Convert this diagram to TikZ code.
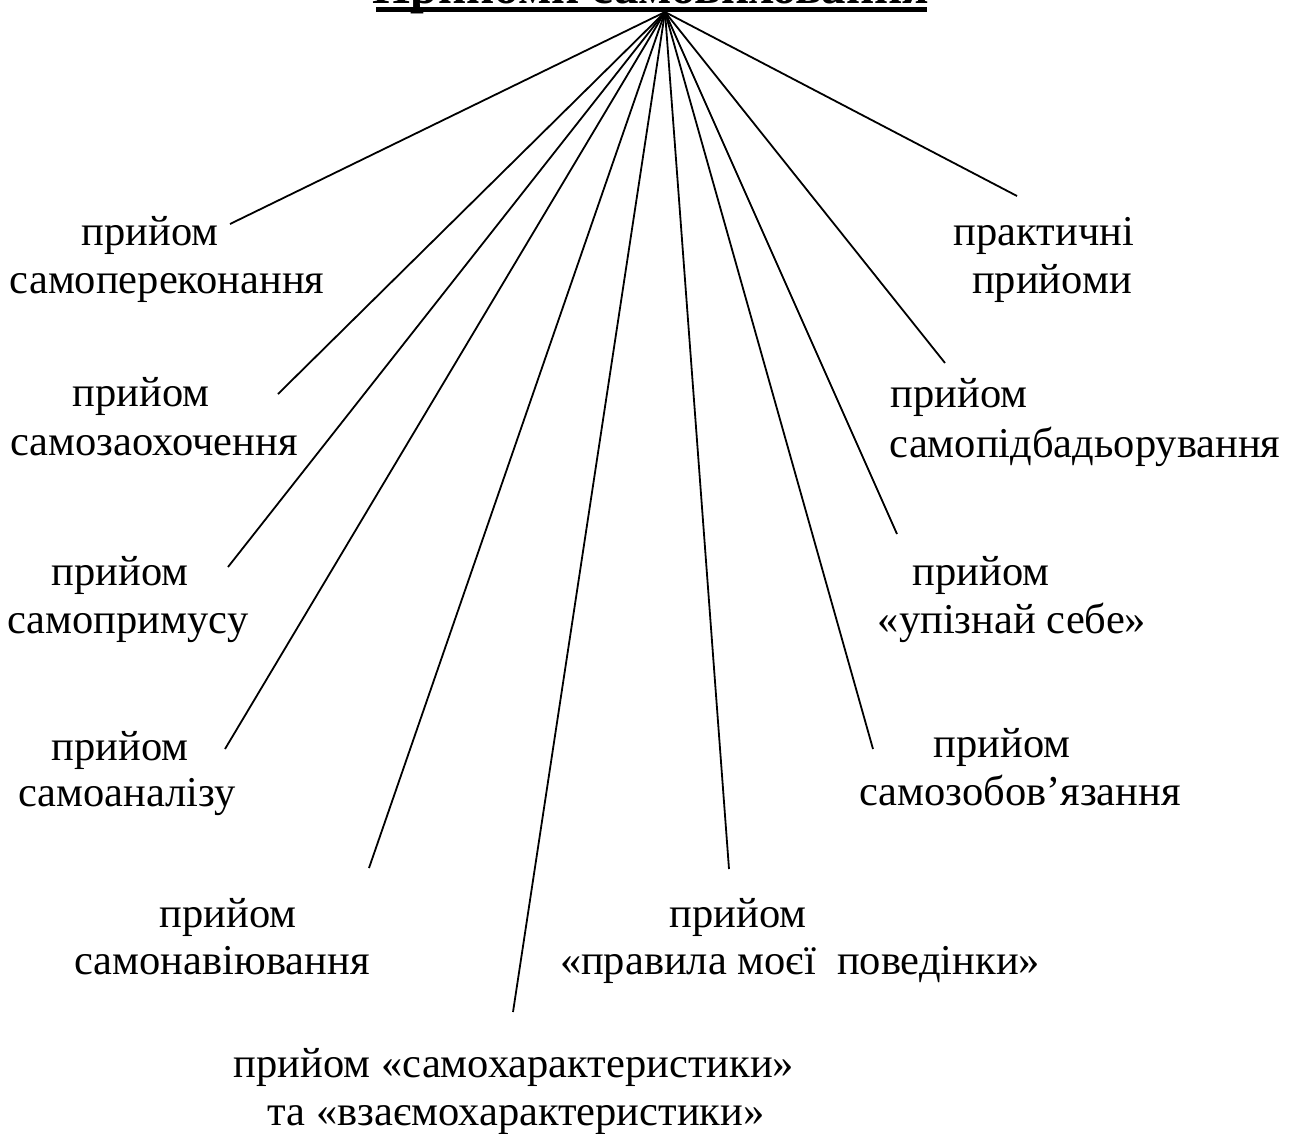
\documentclass[tikz,border=0pt]{standalone}
\usepackage{fontspec}
\setmainfont{Liberation Serif}
\usepackage{tikz}

\begin{document}
\begin{tikzpicture}
		[x=1pt, y=-1pt,
		 item/.style={font=\fontsize{42.5}{48}\selectfont, inner sep=0pt, anchor=base},
		 heading/.style={font=\fontsize{49}{56}\selectfont\bfseries, inner sep=0pt, anchor=base},
		 link/.style={line width=1.8pt}]
		\useasboundingbox (0,0) rectangle (1295,1133);
		\clip (0,0) rectangle (1295,1133);

		\node[heading] (title) at (651,3) {Прийоми самовиховання};
		\draw[line width=5pt] (376,9.5) -- (927,9.5);
		\coordinate (hub) at (665,12);

		% left column
		\node[item] (pa1) at (150,245) {прийом};
		\node[item] (pa2) at (167,293) {самопереконання};
		\node[item] (pb1) at (141,406) {прийом};
		\node[item] (pb2) at (154,455) {самозаохочення};
		\node[item] (pc1) at (120,585) {прийом};
		\node[item] (pc2) at (128,633) {самопримусу};
		\node[item] (pd1) at (120,760) {прийом};
		\node[item] (pd2) at (127,806) {самоаналізу};
		\node[item] (pe1) at (228,927) {прийом};
		\node[item] (pe2) at (222,974) {самонавіювання};

		% bottom
		\node[item] (pf1) at (514,1077) {прийом «самохарактеристики»};
		\node[item] (pf2) at (516,1125) {та «взаємохарактеристики»};

		% right column
		\node[item] (qa1) at (1044,245) {практичні};
		\node[item] (qa2) at (1052,293) {прийоми};
		\node[item] (qb1) at (959,407) {прийом};
		\node[item] (qb2) at (1085,457) {самопідбадьорування};
		\node[item] (qc1) at (981,585) {прийом};
		\node[item] (qc2) at (1012,633) {«упізнай себе»};
		\node[item] (qd1) at (1002,757) {прийом};
		\node[item] (qd2) at (1020,805) {самозобов’язання};
		\node[item] (qe1) at (738,927) {прийом};
		\node[item] (qe2) at (800,974) {«правила моєї~~поведінки»};

		% line ends
		\coordinate (ea) at (230,224);
		\coordinate (eb) at (278,394);
		\coordinate (ec) at (228,567);
		\coordinate (ed) at (225,749);
		\coordinate (ee) at (369,868);
		\coordinate (ef) at (513,1012);
		\coordinate (fe) at (729,869);
		\coordinate (fd) at (873,749);
		\coordinate (fc) at (897,534);
		\coordinate (fb) at (945,363);
		\coordinate (fa) at (1017,196);

		\draw[link] (hub) -- (ea);
		\draw[link] (hub) -- (eb);
		\draw[link] (hub) -- (ec);
		\draw[link] (hub) -- (ed);
		\draw[link] (hub) -- (ee);
		\draw[link] (hub) -- (ef);
		\draw[link] (hub) -- (fe);
		\draw[link] (hub) -- (fd);
		\draw[link] (hub) -- (fc);
		\draw[link] (hub) -- (fb);
		\draw[link] (hub) -- (fa);
	\end{tikzpicture}
\end{document}
